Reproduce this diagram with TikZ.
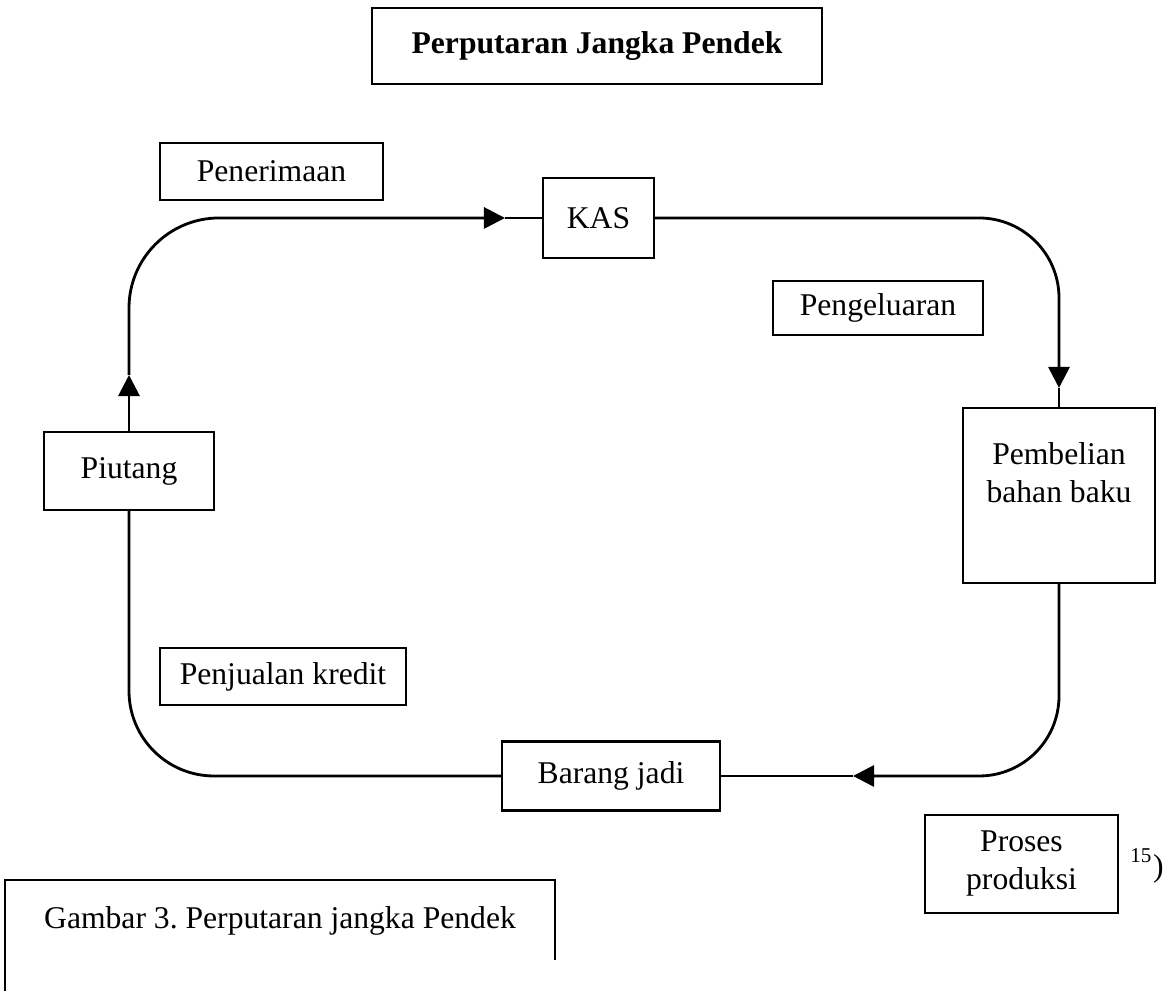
\documentclass[tikz,border=0pt]{standalone}
\usepackage{fontspec}
\setmainfont{Liberation Serif}
\usetikzlibrary{arrows.meta}
\tikzset{box/.style={draw, semithick, inner sep=0pt, align=center},
flow/.style={thick, -{Triangle[length=6pt, width=6pt]}}}

\begin{document}
\begin{tikzpicture}[font=\fontsize{9}{10.8}\selectfont]
\useasboundingbox (0,0) rectangle (11.72,9.91);
\node[box, minimum width=4.5cm, minimum height=0.76cm, font=\fontsize{9}{10.8}\selectfont\bfseries] (judul) at (5.97,9.45) {Perputaran Jangka Pendek};
\node[box, minimum width=2.23cm, minimum height=0.57cm] (terima) at (2.715,8.195) {Penerimaan};
\node[box, minimum width=1.11cm, minimum height=0.80cm] (kas) at (5.985,7.73) {KAS};
\node[box, minimum width=2.10cm, minimum height=0.54cm] (keluar) at (8.78,6.83) {Pengeluaran};
\node[box, minimum width=1.92cm, minimum height=1.75cm] (beli) at (10.59,4.955) {Pembelian\\bahan baku\\[2pt]\mbox{}};
\node[box, minimum width=2.18cm, minimum height=0.69cm] (barang) at (6.11,2.15) {Barang jadi};
\node[box, minimum width=1.70cm, minimum height=0.78cm] (piutang) at (1.29,5.20) {Piutang};
\node[box, minimum width=2.46cm, minimum height=0.57cm] (jual) at (2.83,3.145) {Penjualan kredit};
\node[box, minimum width=1.93cm, minimum height=0.98cm] (proses) at (10.215,1.27) {Proses\\produksi};
\node (catatan) at (11.47,1.25) {\textsuperscript{15})};
% arrow tips along the cycle
\coordinate (aL) at (1.29,6.16);
\coordinate (aT) at (5.05,7.73);
\coordinate (aR) at (10.59,6.03);
\coordinate (aB) at (8.53,2.15);
\draw[flow] (piutang.north) -- (aL);
\draw[flow, rounded corners=0.9cm] (aL) |- (aT);
\draw[thick] (aT) -- (kas.west);
\draw[flow, rounded corners=0.8cm] (kas.east) -| (aR);
\draw[thick] (aR) -- (beli.north);
\draw[flow, rounded corners=0.8cm] (beli.south) |- (aB);
\draw[thick] (aB) -- (barang.east);
\draw[thick, rounded corners=0.85cm] (barang.west) -| (piutang.south);
% caption
\draw[semithick] (0.05,0) -- (0.05,1.11) -- (5.55,1.11) -- (5.55,0.31);
\node (gambar) at (2.80,0.70) {Gambar 3.\ Perputaran jangka Pendek};
\end{tikzpicture}
\end{document}
